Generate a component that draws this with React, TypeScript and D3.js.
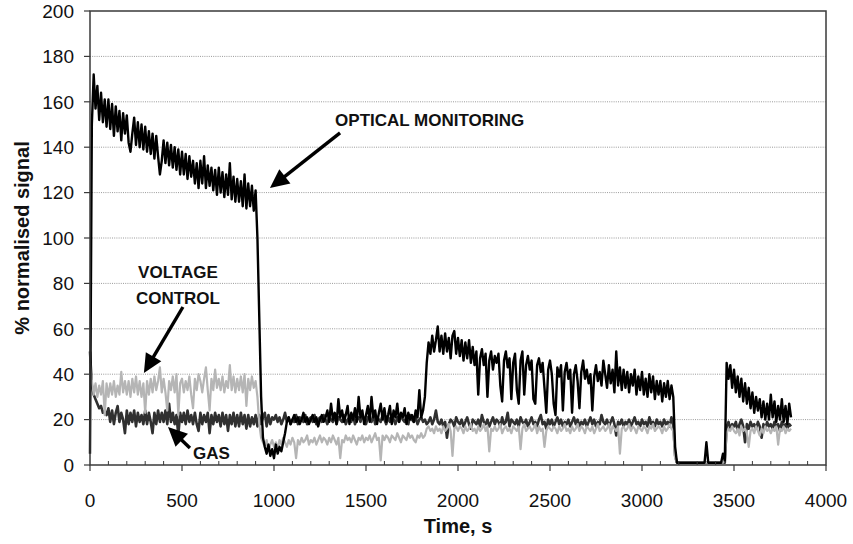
import React from 'react';
import * as d3 from 'd3';

// sampling interval of the recorded signals, seconds
const timeStep = 10;

const xTicks = [0, 500, 1000, 1500, 2000, 2500, 3000, 3500, 4000];
const xMinorStep = 100;
const yTicks = [0, 20, 40, 60, 80, 100, 120, 140, 160, 180, 200];

// one row = 100 s (10 samples)
const opticalMonitoring = [
  5, 150, 172, 157, 167, 152, 164, 151, 161, 149,
  161, 148, 159, 145, 158, 147, 156, 143, 155, 146,
  154, 142, 138, 146, 153, 141, 151, 140, 150, 139,
  149, 138, 147, 137, 146, 135, 145, 136, 128, 134,
  143, 133, 142, 132, 141, 131, 140, 130, 139, 128,
  138, 128, 137, 126, 136, 127, 134, 124, 133, 122,
  134, 124, 136, 122, 132, 123, 131, 121, 130, 119,
  131, 120, 129, 118, 128, 119, 133, 117, 127, 116,
  126, 116, 125, 114, 128, 113, 124, 114, 123, 112,
  121, 100, 65, 30, 12, 8, 5, 9, 4, 7,
  3, 9, 5, 8, 6, 10, 14, 19, 21, 18,
  20, 22, 19, 21, 18, 20, 23, 19, 21, 18,
  20, 22, 19, 21, 17, 20, 22, 19, 21, 24,
  19, 27, 20, 23, 18, 29, 21, 24, 19, 22,
  26, 18, 23, 20, 25, 19, 30, 21, 24, 18,
  22, 26, 19, 30, 21, 24, 18, 23, 27, 20,
  25, 19, 22, 26, 18, 24, 21, 27, 19, 23,
  21, 25, 18, 23, 20, 22, 19, 24, 21, 33,
  21, 24, 30, 45, 54, 49, 57, 50, 55, 61,
  50, 57, 49, 58, 50, 56, 47, 57, 59, 49,
  56, 48, 55, 46, 54, 47, 55, 45, 52, 44,
  50, 31, 47, 51, 44, 49, 30, 46, 50, 42,
  48, 45, 49, 35, 28, 46, 50, 43, 47, 29,
  45, 49, 33, 27, 46, 50, 31, 44, 48, 42,
  46, 29, 27, 44, 47, 41, 45, 34, 23, 42,
  46, 40, 27, 22, 43, 39, 44, 24, 41, 45,
  38, 42, 23, 40, 44, 37, 25, 41, 46, 38,
  42, 36, 40, 24, 39, 44, 37, 41, 35, 46,
  40, 34, 44, 36, 42, 32, 50, 35, 43, 33,
  42, 34, 41, 32, 40, 35, 42, 31, 39, 33,
  41, 31, 38, 30, 40, 32, 39, 29, 37, 31,
  37, 28, 36, 30, 37, 29, 35, 30, 8, 1,
  1, 1, 1, 1, 1, 1, 1, 1, 1, 1,
  1, 1, 1, 1, 1, 10, 1, 1, 1, 1,
  1, 1, 1, 1, 5, 2, 45, 38, 44, 34,
  42, 32, 39, 30, 38, 28, 36, 27, 34, 25,
  32, 23, 30, 24, 29, 21, 28, 20, 27, 20,
  31, 21, 28, 19, 26, 20, 29, 19, 26, 18,
  27, 21,
];

const gasSignal = [
  50, 35, 31, 29, 27, 25, 26, 23, 24, 22,
  25, 19, 24, 18, 23, 26, 19, 23, 20, 14,
  24, 18, 23, 19, 24, 17, 23, 19, 22, 18,
  24, 18, 23, 19, 14, 23, 18, 24, 19, 23,
  19, 24, 18, 27, 19, 23, 18, 22, 13, 23,
  19, 23, 18, 24, 19, 22, 18, 23, 18, 15,
  23, 18, 22, 19, 23, 14, 22, 18, 23, 19,
  22, 17, 23, 18, 22, 15, 22, 18, 23, 17,
  22, 17, 23, 18, 22, 16, 22, 17, 21, 18,
  22, 17, 22, 18, 21, 23, 17, 22, 18, 21,
  20, 22, 19, 21, 18, 20, 23, 19, 21, 18,
  20, 19, 22, 18, 21, 20, 19, 22, 18, 20,
  21, 19, 22, 18, 20, 21, 19, 22, 20, 18,
  21, 20, 19, 22, 18, 21, 20, 19, 22, 18,
  20, 21, 19, 22, 18, 20, 21, 19, 22, 20,
  18, 21, 20, 19, 22, 18, 21, 20, 19, 22,
  20, 18, 21, 19, 22, 20, 18, 21, 19, 22,
  20, 19, 21, 18, 22, 20, 19, 21, 18, 20,
  21, 19, 20, 18, 19, 21, 18, 20, 24, 19,
  18, 20, 17, 19, 12, 18, 20, 19, 17, 21,
  19, 18, 20, 17, 19, 21, 18, 16, 20, 19,
  18, 20, 17, 22, 19, 18, 20, 17, 19, 21,
  18, 20, 19, 17, 21, 18, 19, 23, 17, 20,
  19, 18, 20, 17, 21, 19, 18, 20, 17, 19,
  21, 18, 19, 17, 20, 22, 18, 19, 16, 20,
  18, 20, 17, 19, 21, 18, 20, 17, 19, 18,
  20, 17, 19, 21, 18, 20, 17, 19, 18, 20,
  17, 19, 21, 18, 20, 17, 19, 18, 22, 19,
  18, 20, 17, 19, 21, 18, 13, 19, 18, 20,
  17, 19, 18, 20, 17, 19, 21, 18, 19, 17,
  20, 18, 19, 17, 21, 18, 19, 17, 20, 18,
  19, 17, 20, 18, 19, 17, 21, 18, 4, 1,
  1, 1, 1, 1, 1, 1, 1, 1, 1, 1,
  1, 1, 1, 1, 1, 1, 1, 1, 1, 1,
  1, 1, 1, 1, 1, 1, 17, 19, 16, 18,
  17, 19, 15, 18, 20, 17, 10, 18, 16, 19,
  17, 18, 16, 19, 17, 12, 18, 16, 19, 17,
  18, 16, 19, 17, 18, 15, 19, 17, 18, 16,
  18, 17,
];

const voltageControl = [
  45, 37, 31, 36, 30, 35, 31, 37, 22, 36,
  30, 36, 31, 37, 30, 35, 31, 41, 32, 37,
  31, 37, 30, 38, 32, 39, 31, 37, 30, 36,
  23, 37, 31, 38, 32, 39, 33, 37, 43, 32,
  38, 32, 24, 37, 33, 39, 32, 40, 22, 36,
  38, 32, 37, 33, 39, 31, 25, 38, 33, 40,
  37, 32, 38, 43, 33, 24, 38, 33, 42, 34,
  38, 33, 39, 32, 37, 34, 44, 33, 39, 32,
  38, 33, 39, 32, 40, 26, 38, 33, 39, 34,
  37, 30, 18, 12, 10, 8, 11, 6, 9, 11,
  8, 10, 7, 11, 9, 12, 10, 8, 11, 9,
  12, 10, 3, 11, 9, 12, 10, 11, 13, 9,
  11, 10, 12, 9, 11, 13, 10, 12, 11, 9,
  12, 10, 13, 11, 9, 12, 3, 11, 10, 13,
  11, 12, 10, 13, 11, 9, 12, 11, 13, 10,
  12, 11, 13, 10, 12, 14, 11, 12, 2, 13,
  11, 13, 12, 10, 13, 12, 11, 14, 12, 10,
  13, 12, 11, 14, 12, 13, 11, 10, 13, 12,
  14, 12, 13, 16, 17, 15, 16, 14, 17, 15,
  16, 14, 17, 15, 16, 18, 15, 4, 16, 17,
  15, 17, 16, 14, 17, 15, 16, 18, 15, 16,
  14, 17, 15, 16, 18, 15, 17, 6, 16, 15,
  17, 15, 16, 18, 14, 16, 17, 15, 16, 14,
  17, 16, 15, 17, 7, 16, 18, 15, 16, 17,
  15, 16, 18, 14, 17, 15, 16, 8, 15, 17,
  16, 15, 17, 16, 14, 17, 15, 16, 18, 15,
  16, 14, 17, 15, 16, 18, 15, 17, 16, 14,
  17, 16, 15, 17, 14, 16, 18, 15, 16, 17,
  15, 16, 18, 14, 17, 16, 15, 17, 5, 16,
  17, 15, 16, 18, 15, 17, 16, 14, 17, 16,
  15, 17, 16, 14, 17, 16, 18, 15, 16, 17,
  16, 14, 17, 15, 16, 18, 16, 15, 3, 1,
  1, 1, 1, 1, 1, 1, 1, 1, 1, 1,
  1, 1, 1, 1, 1, 1, 1, 1, 1, 1,
  1, 1, 1, 1, 1, 3, 14, 16, 15, 17,
  15, 14, 16, 13, 17, 15, 16, 14, 8, 15,
  16, 14, 17, 15, 13, 16, 14, 17, 15, 16,
  14, 16, 15, 17, 9, 16, 15, 17, 14, 16,
  15, 16,
];

// annotations in data units: [time, value]
const annotations = [
  { lines: ['OPTICAL MONITORING'], at: [1332, 149.3], anchor: 'start', tail: [1359, 146.3], tip: [978, 122] },
  { lines: ['VOLTAGE', 'CONTROL'], at: [478, 82.4], anchor: 'middle', tail: [505, 69.6], tip: [293, 40.5] },
  { lines: ['GAS'], at: [560, 2.6], anchor: 'start', tail: [543, 7.5], tip: [424, 16.7] },
];

const FONT = '"Liberation Sans", Arial, Helvetica, sans-serif';

function Arrow({ x1, y1, x2, y2 }: { x1: number; y1: number; x2: number; y2: number }) {
  const ang = Math.atan2(y2 - y1, x2 - x1);
  const len = 19;
  const hw = 9;
  const bx = x2 - len * Math.cos(ang);
  const by = y2 - len * Math.sin(ang);
  const px = -Math.sin(ang) * hw;
  const py = Math.cos(ang) * hw;
  return (
    <g>
      <line x1={x1} y1={y1} x2={bx + 2 * Math.cos(ang)} y2={by + 2 * Math.sin(ang)} stroke="#000" strokeWidth={3.4} />
      <polygon points={`${x2},${y2} ${bx + px},${by + py} ${bx - px},${by - py}`} fill="#000" />
    </g>
  );
}

export default function App() {
  const W = 853;
  const H = 544;
  const x = d3.scaleLinear().domain([0, 4000]).range([90, 826]);
  const y = d3.scaleLinear().domain([0, 200]).range([465, 11]);
  const line = d3
    .line<number>()
    .x((_, i) => x(i * timeStep))
    .y((d) => y(d));

  const minor = d3.range(0, 4001, xMinorStep).filter((t) => t % 500 !== 0);
  const [x0, x1] = x.range();
  const [yb, yt] = y.range();

  return (
    <svg
      width={W}
      height={H}
      style={{ position: 'absolute', left: 0, top: 0, display: 'block', background: '#fff' }}
      fontFamily={FONT}
    >
      <rect x={0} y={0} width={W} height={H} fill="#fff" />
      {/* gridlines */}
      {yTicks.slice(1, -1).map((v) => (
        <line key={v} x1={x0} x2={x1} y1={y(v)} y2={y(v)} stroke="#9a9a9a" strokeWidth={1} strokeDasharray="1 1.2" />
      ))}
      {/* series */}
      <path d={line(gasSignal) ?? ''} fill="none" stroke="#303030" strokeWidth={2.6} strokeLinejoin="round" />
      <path d={line(voltageControl) ?? ''} fill="none" stroke="#b5b5b5" strokeWidth={2.2} strokeLinejoin="round" />
      <path d={line(opticalMonitoring) ?? ''} fill="none" stroke="#000" strokeWidth={2.4} strokeLinejoin="round" />
      {/* frame */}
      <rect x={x0} y={yt} width={x1 - x0} height={yb - yt} fill="none" stroke="#3a3a3a" strokeWidth={1.5} />
      {/* y ticks */}
      {yTicks.map((v) => (
        <g key={v}>
          <line x1={x0 - 6} x2={x0} y1={y(v)} y2={y(v)} stroke="#3a3a3a" strokeWidth={1.2} />
          <text x={x0 - 16} y={y(v)} dy="0.36em" textAnchor="end" fontSize={19} fill="#111">
            {v}
          </text>
        </g>
      ))}
      {/* x ticks */}
      {minor.map((t) => (
        <line key={t} x1={x(t)} x2={x(t)} y1={yb - 4} y2={yb} stroke="#3a3a3a" strokeWidth={1} />
      ))}
      {xTicks.map((t) => (
        <g key={t}>
          <line x1={x(t)} x2={x(t)} y1={yb} y2={yb + 6} stroke="#3a3a3a" strokeWidth={1.2} />
          <text x={x(t)} y={507} textAnchor="middle" fontSize={19} fill="#111">
            {t}
          </text>
        </g>
      ))}
      {/* axis titles */}
      <text x={(x0 + x1) / 2} y={533} textAnchor="middle" fontSize={20} fontWeight="bold" fill="#111">
        Time, s
      </text>
      <text
        transform={`translate(29, ${(yb + yt) / 2}) rotate(-90)`}
        textAnchor="middle"
        fontSize={20}
        fontWeight="bold"
        fill="#111"
      >
        % normalised signal
      </text>
      {/* annotations */}
      {annotations.map((a, k) => (
        <g key={k}>
          <Arrow x1={x(a.tail[0])} y1={y(a.tail[1])} x2={x(a.tip[0])} y2={y(a.tip[1])} />
          {a.lines.map((s, j) => (
            <text
              key={j}
              x={x(a.at[0])}
              y={y(a.at[1]) + j * 26}
              textAnchor={a.anchor as any}
              fontSize={17}
              fontWeight="bold"
              fill="#111"
            >
              {s}
            </text>
          ))}
        </g>
      ))}
    </svg>
  );
}
